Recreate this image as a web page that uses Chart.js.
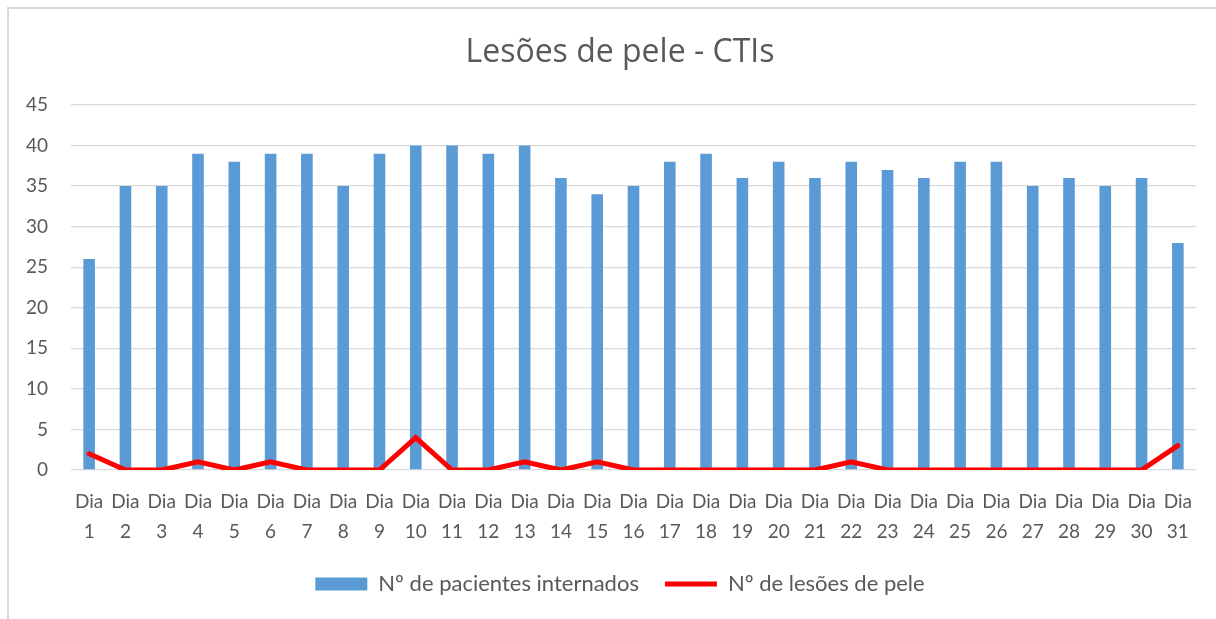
<!DOCTYPE html>
<html lang="pt">
<head>
    <meta charset="UTF-8">
    <title>Lesões de pele - CTIs</title>
    <script src="https://cdn.jsdelivr.net/npm/chart.js"></script>
    <style>
        body {
            margin: 0;
            background: #ffffff;
        }
    </style>
</head>
<body>
    <canvas id="grafico" width="1216" height="619"></canvas>

    <script>
        // Dados do mês
        const dias = [];
        for (let d = 1; d <= 31; d++) dias.push(['Dia', String(d)]);

        const pacientesInternados = [26, 35, 35, 39, 38, 39, 39, 35, 39, 40, 40, 39, 40, 36, 34, 35,
                                     38, 39, 36, 38, 36, 38, 37, 36, 38, 38, 35, 36, 35, 36, 28];
        const lesoesDePele = [2, 0, 0, 1, 0, 1, 0, 0, 0, 4, 0, 0, 1, 0, 1, 0,
                              0, 0, 0, 0, 0, 1, 0, 0, 0, 0, 0, 0, 0, 0, 3];

        const cinza = '#595959';
        const fonte = 'Lato, "Open Sans", sans-serif';

        // moldura do gráfico
        const moldura = {
            id: 'moldura',
            beforeDraw(chart) {
                const ctx = chart.ctx;
                ctx.save();
                ctx.strokeStyle = '#D9D9D9';
                ctx.lineWidth = 2;
                ctx.beginPath();
                ctx.moveTo(8, 619);
                ctx.lineTo(8, 8);
                ctx.lineTo(1216, 8);
                ctx.stroke();
                ctx.restore();
            }
        };

        const ctx = document.getElementById('grafico').getContext('2d');
        new Chart(ctx, {
            type: 'bar',
            data: {
                labels: dias,
                datasets: [{
                    type: 'line',
                    label: 'Nº de lesões de pele',
                    data: lesoesDePele,
                    borderColor: '#FF0000',
                    backgroundColor: '#FF0000',
                    borderWidth: 5,
                    borderCapStyle: 'round',
                    pointRadius: 0,
                    pointHoverRadius: 0,
                    tension: 0,
                    order: 1
                }, {
                    label: 'Nº de pacientes internados',
                    data: pacientesInternados,
                    backgroundColor: '#5B9BD5',
                    borderWidth: 0,
                    barPercentage: 0.32,
                    categoryPercentage: 1,
                    order: 2
                }]
            },
            options: {
                responsive: false,
                devicePixelRatio: 1,
                animation: false,
                layout: {
                    padding: { left: 24, right: 0, top: 0, bottom: 14 }
                },
                plugins: {
                    title: {
                        display: true,
                        text: 'Lesões de pele - CTIs',
                        color: cinza,
                        font: { family: '"Open Sans", Lato, sans-serif', size: 32, weight: 'normal' },
                        padding: { top: 34, bottom: 32.6 }
                    },
                    legend: {
                        position: 'bottom',
                        reverse: true,
                        labels: {
                            color: cinza,
                            font: { family: fonte, size: 22 },
                            usePointStyle: true,
                            pointStyleWidth: 52,
                            boxHeight: 13,
                            padding: 26,
                            generateLabels(chart) {
                                const itens = Chart.defaults.plugins.legend.labels.generateLabels(chart);
                                itens.forEach(item => {
                                    item.pointStyle = item.datasetIndex === 0 ? 'line' : 'rect';
                                });
                                return itens;
                            }
                        }
                    },
                    tooltip: { enabled: false }
                },
                scales: {
                    x: {
                        afterFit(scale) { scale.height = 77; },
                        grid: { display: false, drawTicks: false },
                        border: { display: false },
                        ticks: {
                            color: cinza,
                            font: { family: fonte, size: 19, lineHeight: 1.58 },
                            padding: 17,
                            maxRotation: 0,
                            autoSkip: false
                        }
                    },
                    y: {
                        min: 0,
                        max: 45,
                        afterFit(scale) { scale.width = 47; },
                        grid: { color: '#D9D9D9', lineWidth: 1.3, drawTicks: false },
                        border: { display: false },
                        ticks: {
                            stepSize: 5,
                            color: cinza,
                            font: { family: fonte, size: 19 },
                            padding: 23
                        }
                    },
                    // margem à direita da área do gráfico
                    margemDireita: {
                        position: 'right',
                        afterFit(scale) { scale.width = 20; },
                        grid: { display: false, drawTicks: false },
                        border: { display: false },
                        ticks: { display: false }
                    }
                }
            },
            plugins: [moldura]
        });
    </script>
</body>
</html>
